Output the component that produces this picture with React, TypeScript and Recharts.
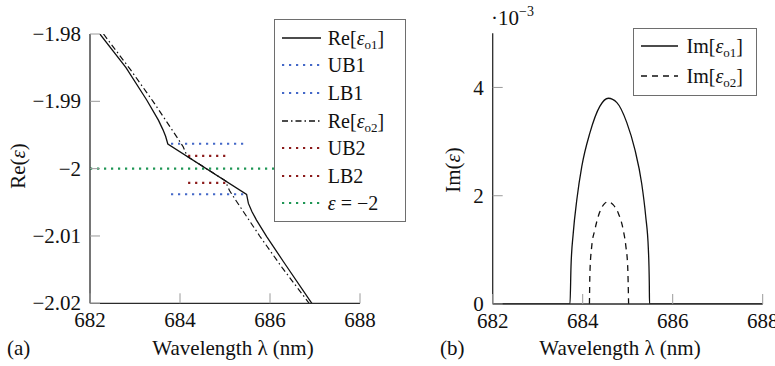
import { Label, Legend, Line, LineChart, ReferenceLine, XAxis, YAxis } from 'recharts';

const FONT = '"Liberation Serif", "Times New Roman", serif';
const INK = '#111';
const AXIS = '#2b2b2b';
const TICK = '#9a9a9a';
const BLUE = '#4468c8';
const RED = '#8b1a1a';
const GREEN = '#1f9655';

const wavelengthTicks = [682, 684, 686, 688];
const reTicks = [-2.02, -2.01, -2, -1.99, -1.98];
const imTicks = [0, 2, 4];

// Re[eps_o1]
const reO1Lambda = [682.22, 682.8, 683.26, 683.52, 683.62, 683.68, 683.73, 685.48, 685.52, 685.6, 685.7, 685.93, 686.3, 686.93];
const reO1Value = [-1.98, -1.985, -1.9898, -1.9928, -1.9942, -1.9952, -1.99634, -2.00382, -2.00516, -2.0064, -2.00764, -2.01012, -2.01383, -2.02];

// Re[eps_o2]
const reO2Lambda = [682.3, 682.9, 683.4, 683.7, 683.95, 684.07, 684.12, 684.15, 685.02, 685.05, 685.1, 685.22, 685.47, 685.77, 686.27, 686.87];
const reO2Value = [-1.98, -1.9853, -1.99, -1.993, -1.9955, -1.99675, -1.9975, -1.99814, -2.00185, -2.0025, -2.00325, -2.0045, -2.007, -2.01, -2.0147, -2.02];

// bounds
const b1Lambda = [683.8, 685.45];
const b2Lambda = [684.18, 685.02];
const ub1 = -1.9963;
const lb1 = -2.0038;
const ub2 = -1.9981;
const lb2 = -2.0021;
const epsLevel = -2;

// Im[eps_o1], Im[eps_o2] (x 1e-3)
const imO1Lambda = [682, 683.718, 683.74, 683.79, 683.87, 683.98, 684.16, 684.38, 684.57, 684.76, 684.98, 685.16, 685.31, 685.4, 685.46, 685.48, 685.485, 688];
const imO1Value = [0, 0, 0.69, 1.31, 1.93, 2.54, 3.16, 3.65, 3.8, 3.72, 3.35, 2.85, 2.23, 1.62, 1.0, 0.38, 0, 0];
const imO2Lambda = [684.15, 684.16, 684.2, 684.27, 684.37, 684.48, 684.57, 684.68, 684.79, 684.9, 684.96, 685.0, 685.02];
const imO2Value = [0, 0.57, 1.06, 1.37, 1.68, 1.85, 1.89, 1.83, 1.68, 1.37, 1.06, 0.69, 0];

const pts = (xs: number[], ys: number[]) => xs.map((x, i) => ({ x, y: ys[i] }));
const flat = (xs: number[], v: number) => xs.map((x) => ({ x, y: v }));

const fmt = (v: number) => String(v).replace('-', '\u2212');

const TICK_MARGIN = 9;
const TICK_LEN = 10;
const DOTS = '2.2 4.8';

function LeftTick(props: any) {
  const { x, y, payload } = props;
  return (
    <g>
      <line x1={x + TICK_MARGIN} x2={x + TICK_MARGIN + TICK_LEN} y1={y} y2={y} stroke={TICK} strokeWidth={1} />
      <text x={x} y={y} dy="0.34em" textAnchor="end" fontFamily={FONT} fontSize={21} fill={INK}>
        {fmt(payload.value)}
      </text>
    </g>
  );
}

function BottomTick(props: any) {
  const { x, y, payload } = props;
  return (
    <g>
      <line x1={x} x2={x} y1={y - TICK_MARGIN} y2={y - TICK_MARGIN - TICK_LEN} stroke={TICK} strokeWidth={1} />
      <text x={x} y={y} dy="0.71em" textAnchor="middle" fontFamily={FONT} fontSize={21} fill={INK}>
        {fmt(payload.value)}
      </text>
    </g>
  );
}

const eps = (sub?: string) => (
  <>
    <i>ε</i>
    {sub && <span style={{ fontSize: 13, position: 'relative', top: 4 }}>{sub}</span>}
  </>
);

interface LegendItem {
  label: any;
  stroke: string;
  dash?: string;
  width?: number;
}

function LegendBox({ items, width, height, rowHeight, padTop, padLeft, sample, gap }: any) {
  return (
    <div
      style={{
        boxSizing: 'border-box',
        width,
        height,
        border: '1.5px solid #6e6e6e',
        background: '#fff',
        padding: `${padTop}px 0 0 ${padLeft}px`,
        fontFamily: FONT,
        fontSize: 20,
        color: INK,
      }}
    >
      {items.map((it: LegendItem, i: number) => (
        <div key={i} style={{ display: 'flex', alignItems: 'center', height: rowHeight }}>
          <svg width={sample} height={6} style={{ flex: 'none' }}>
            <line x1={0} x2={sample} y1={3} y2={3} stroke={it.stroke} strokeWidth={it.width ?? 1.3} strokeDasharray={it.dash} />
          </svg>
          <span style={{ marginLeft: gap, whiteSpace: 'nowrap', lineHeight: 1 }}>{it.label}</span>
        </div>
      ))}
    </div>
  );
}

const reLegend: LegendItem[] = [
  { label: <>Re[{eps('o1')}]</>, stroke: INK },
  { label: 'UB1', stroke: BLUE, dash: DOTS, width: 2.2 },
  { label: 'LB1', stroke: BLUE, dash: DOTS, width: 2.2 },
  { label: <>Re[{eps('o2')}]</>, stroke: INK, dash: '6 3 1.5 3' },
  { label: 'UB2', stroke: RED, dash: DOTS, width: 2.2 },
  { label: 'LB2', stroke: RED, dash: DOTS, width: 2.2 },
  { label: <>{eps()} = {'\u2212'}2</>, stroke: GREEN, dash: DOTS, width: 2.2 },
];

const imLegend: LegendItem[] = [
  { label: <>Im[{eps('o1')}]</>, stroke: INK },
  { label: <>Im[{eps('o2')}]</>, stroke: INK, dash: '6 5' },
];

const textProps = { fontFamily: FONT, fontSize: 21, fill: INK };

function ReChart() {
  return (
    <LineChart width={410} height={366} margin={{ top: 34, right: 50, bottom: 61.7, left: 89 }}>
      <XAxis
        type="number"
        dataKey="x"
        domain={[682, 688]}
        ticks={wavelengthTicks}
        interval={0}
        height={1}
        tickLine={false}
        tickSize={0}
        tickMargin={TICK_MARGIN}
        axisLine={{ stroke: AXIS, strokeWidth: 1.3 }}
        tick={<BottomTick />}
        allowDataOverflow
      >
        <Label content={() => <text x={233} y={355} textAnchor="middle" {...textProps}>Wavelength λ (nm)</text>} />
        <Label content={() => <text x={7} y={355} {...textProps}>(a)</text>} />
      </XAxis>
      <YAxis
        type="number"
        dataKey="y"
        domain={[-2.02, -1.98]}
        ticks={reTicks}
        interval={0}
        width={1}
        tickLine={false}
        tickSize={0}
        tickMargin={TICK_MARGIN}
        axisLine={{ stroke: AXIS, strokeWidth: 1.3 }}
        tick={<LeftTick />}
        allowDataOverflow
      >
        <Label
          content={() => (
            <text x={18} y={166} textAnchor="middle" dy="0.35em" transform="rotate(-90 18 166)" {...textProps}>
              Re(<tspan fontStyle="italic">ε</tspan>)
            </text>
          )}
        />
      </YAxis>
      <ReferenceLine y={epsLevel} stroke={GREEN} strokeWidth={2.2} strokeDasharray={DOTS} />
      <Line data={flat(b1Lambda, ub1)} dataKey="y" stroke={BLUE} strokeWidth={2.2} strokeDasharray={DOTS} dot={false} isAnimationActive={false} />
      <Line data={flat(b1Lambda, lb1)} dataKey="y" stroke={BLUE} strokeWidth={2.2} strokeDasharray={DOTS} dot={false} isAnimationActive={false} />
      <Line data={flat(b2Lambda, ub2)} dataKey="y" stroke={RED} strokeWidth={2.2} strokeDasharray={DOTS} dot={false} isAnimationActive={false} />
      <Line data={flat(b2Lambda, lb2)} dataKey="y" stroke={RED} strokeWidth={2.2} strokeDasharray={DOTS} dot={false} isAnimationActive={false} />
      <Line data={pts(reO2Lambda, reO2Value)} dataKey="y" type="linear" stroke={INK} strokeWidth={1.2} strokeDasharray="6 3 1.5 3" dot={false} isAnimationActive={false} />
      <Line data={pts(reO1Lambda, reO1Value)} dataKey="y" type="linear" stroke={INK} strokeWidth={1.3} dot={false} isAnimationActive={false} />
      <Legend
        layout="vertical"
        align="center"
        verticalAlign="middle"
        wrapperStyle={{ left: 274, top: 19, width: 132 }}
        content={() => (
          <LegendBox items={reLegend} width={132} height={203} rowHeight={27.6} padTop={4} padLeft={7.2} sample={39} gap={6.6} />
        )}
      />
    </LineChart>
  );
}

function ImChart() {
  return (
    <LineChart width={385} height={366} margin={{ top: 33.3, right: 12.3, bottom: 61, left: 101.7 }}>
      <XAxis
        type="number"
        dataKey="x"
        domain={[682, 688]}
        ticks={wavelengthTicks}
        interval={0}
        height={1}
        tickLine={false}
        tickSize={0}
        tickMargin={TICK_MARGIN}
        axisLine={{ stroke: AXIS, strokeWidth: 1.3 }}
        tick={<BottomTick />}
        allowDataOverflow
      >
        <Label content={() => <text x={230} y={355} textAnchor="middle" {...textProps}>Wavelength λ (nm)</text>} />
        <Label content={() => <text x={50} y={355} {...textProps}>(b)</text>} />
      </XAxis>
      <YAxis
        type="number"
        dataKey="y"
        domain={[0, 5]}
        ticks={imTicks}
        interval={0}
        width={1}
        tickLine={false}
        tickSize={0}
        tickMargin={TICK_MARGIN}
        axisLine={{ stroke: AXIS, strokeWidth: 1.3 }}
        tick={<LeftTick />}
        allowDataOverflow
      >
        <Label
          content={() => (
            <text x={63} y={170} textAnchor="middle" dy="0.35em" transform="rotate(-90 63 170)" {...textProps}>
              Im(<tspan fontStyle="italic">ε</tspan>)
            </text>
          )}
        />
        <Label
          content={() => (
            <text x={101} y={25} {...textProps}>
              ·10<tspan dy={-9} fontSize={14}>{'\u2212'}3</tspan>
            </text>
          )}
        />
      </YAxis>
      <Line data={pts(imO2Lambda, imO2Value)} dataKey="y" type="monotone" stroke={INK} strokeWidth={1.3} strokeDasharray="6 5" dot={false} isAnimationActive={false} />
      <Line data={pts(imO1Lambda, imO1Value)} dataKey="y" type="monotone" stroke={INK} strokeWidth={1.3} dot={false} isAnimationActive={false} />
      <Legend
        layout="vertical"
        align="center"
        verticalAlign="middle"
        wrapperStyle={{ left: 242.7, top: 28.3, width: 124 }}
        content={() => (
          <LegendBox items={imLegend} width={124} height={68} rowHeight={29.3} padTop={2.3} padLeft={7.5} sample={37} gap={8.4} />
        )}
      />
    </LineChart>
  );
}

export default function App() {
  return (
    <div style={{ position: 'fixed', left: 0, top: 0, width: 775, height: 366, background: '#fff', fontFamily: FONT }}>
      <div style={{ position: 'absolute', left: 0, top: 0 }}>
        <ReChart />
      </div>
      <div style={{ position: 'absolute', left: 390, top: 0 }}>
        <ImChart />
      </div>
    </div>
  );
}
